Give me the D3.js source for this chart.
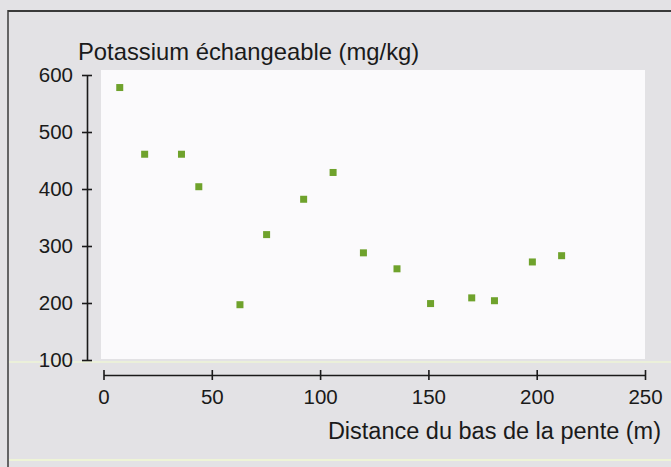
<!DOCTYPE html>
<html>
<head>
<meta charset="utf-8">
<script src="https://cdn.jsdelivr.net/npm/d3@7"></script>
<style>
  body { margin: 0; background: #e3e2e5; }
  svg { display: block; font-family: "Liberation Sans", Arial, sans-serif; }
  .axis path, .axis line { stroke: #1a1a1a; stroke-width: 1.6; }
  .axis text { fill: #1a1a1a; font-size: 20.5px; }
</style>
</head>
<body>
<div id="chart"></div>
<script>
  // Data
  const distance = [7.5, 19, 36, 44, 63, 75.3, 92.4, 106, 120, 135.5, 151, 170, 180.5, 198, 211.5];
  const potassium = [578, 461, 461, 404, 197, 320, 382, 429, 288, 260, 199, 209, 204, 272, 283];
  const xTicks = [0, 50, 100, 150, 200, 250];
  const yTicks = [100, 200, 300, 400, 500, 600];

  const width = 671;
  const height = 467;

  const svg = d3
    .select("#chart")
    .append("svg")
    .attr("width", width)
    .attr("height", height);

  // page background + frame
  svg.append("rect").attr("width", width).attr("height", height).attr("fill", "#e3e2e5");
  svg.append("line").attr("x1", 8).attr("x2", width).attr("y1", 11).attr("y2", 11)
    .attr("stroke", "#3a3a3a").attr("stroke-width", 2);
  svg.append("line").attr("x1", 8).attr("x2", 8).attr("y1", 10).attr("y2", height)
    .attr("stroke", "#3a3a3a").attr("stroke-width", 1.5);

  const xScale = d3.scaleLinear().domain([0, 250]).range([103.5, 645]);
  const yScale = d3.scaleLinear().domain([100, 600]).range([360, 75]);

  // white plot panel
  svg.append("rect")
    .attr("x", 101).attr("y", 70)
    .attr("width", 645 - 101).attr("height", 359 - 70)
    .attr("fill", "#fbfafc");

  // faint scan lines
  svg.append("line").attr("x1", 9).attr("x2", width).attr("y1", 362).attr("y2", 362)
    .attr("stroke", "#eef4d6").attr("stroke-width", 1.5);
  svg.append("line").attr("x1", 9).attr("x2", width).attr("y1", 460).attr("y2", 460)
    .attr("stroke", "#eef4d6").attr("stroke-width", 2);

  // Axes
  const yAxis = svg.append("g")
    .attr("class", "axis")
    .attr("transform", "translate(87,0)")
    .call(d3.axisLeft(yScale).tickValues(yTicks).tickSize(5).tickSizeOuter(0).tickPadding(10));
  yAxis.selectAll(".tick line").attr("x1", -5).attr("x2", 5);
  yAxis.selectAll(".tick text").attr("x", -14);

  const xAxis = svg.append("g")
    .attr("class", "axis")
    .attr("transform", "translate(0,375)")
    .call(d3.axisBottom(xScale).tickValues(xTicks).tickSize(5).tickSizeOuter(0).tickPadding(12));
  xAxis.selectAll(".tick line").attr("y1", -5).attr("y2", 5);
  xAxis.selectAll(".tick text").attr("y", 14);

  // Labels
  svg.append("text")
    .attr("x", 78)
    .attr("y", 60)
    .attr("font-size", "23.8px")
    .attr("fill", "#1a1a1a")
    .text("Potassium échangeable (mg/kg)");

  svg.append("text")
    .attr("x", 661)
    .attr("y", 439)
    .attr("font-size", "23.5px")
    .attr("text-anchor", "end")
    .attr("fill", "#1a1a1a")
    .text("Distance du bas de la pente (m)");

  // Points
  const points = distance.map((d, i) => ({ d: d, k: potassium[i] }));
  svg.append("g")
    .selectAll("rect")
    .data(points)
    .join("rect")
    .attr("x", (p) => xScale(p.d) - 3.5)
    .attr("y", (p) => yScale(p.k) - 3.5)
    .attr("width", 7)
    .attr("height", 7)
    .attr("fill", "#6fa22c");
</script>
</body>
</html>
